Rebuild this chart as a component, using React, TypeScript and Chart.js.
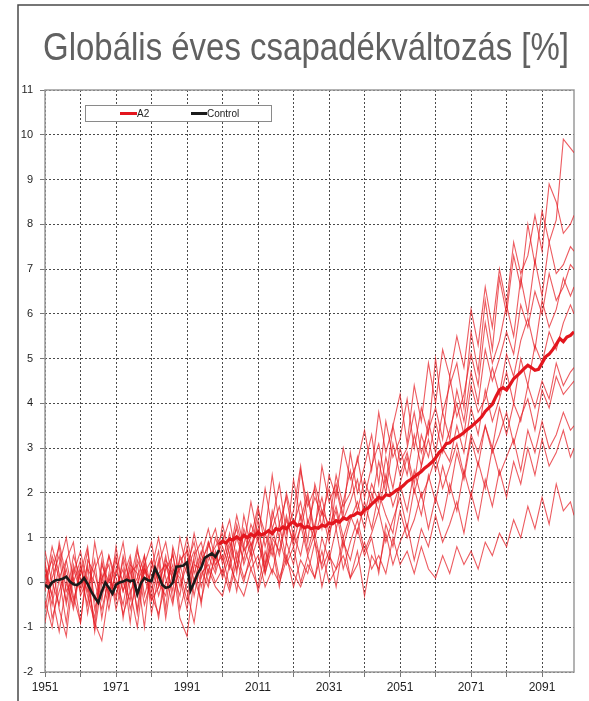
import React, { useEffect, useRef } from 'react';
import { Chart, registerables } from 'chart.js';

Chart.register(...registerables);

const TITLE = 'Globális éves csapadékváltozás [%]';
const LEGEND_MEAN = 'A2';
const LEGEND_CONTROL = 'Control';

const X_TICKS = [1951, 1961, 1971, 1981, 1991, 2001, 2011, 2021, 2031, 2041, 2051, 2061, 2071, 2081, 2091];
const X_LABELS = [1951, 1971, 1991, 2011, 2031, 2051, 2071, 2091];

const CONTROL_YEARS = [
  1951, 1952, 1953, 1954, 1955, 1956, 1957, 1958, 1959, 1960,
  1961, 1962, 1963, 1964, 1965, 1966, 1967, 1968, 1969, 1970,
  1971, 1972, 1973, 1974, 1975, 1976, 1977, 1978, 1979, 1980,
  1981, 1982, 1983, 1984, 1985, 1986, 1987, 1988, 1989, 1990,
  1991, 1992, 1993, 1994, 1995, 1996, 1997, 1998, 1999, 2000,
];
const CONTROL = [
  -0.05, -0.12, 0.0, 0.05, 0.06, 0.08, 0.13, 0.02, -0.04, -0.06,
  0.0, 0.1, -0.03, -0.2, -0.33, -0.45, -0.2, 0.0, -0.12, -0.25,
  -0.05, 0.0, 0.02, 0.06, 0.03, 0.05, -0.26, -0.02, 0.1, 0.05,
  0.03, 0.32, 0.15, -0.05, -0.12, -0.1, 0.0, 0.35, 0.36, 0.38,
  0.45, -0.18, 0.0, 0.2, 0.33, 0.55, 0.6, 0.65, 0.57, 0.72,
];

const MEAN_YEARS = [
  2000, 2001, 2002, 2003, 2004, 2005, 2006, 2007, 2008, 2009,
  2010, 2011, 2012, 2013, 2014, 2015, 2016, 2017, 2018, 2019,
  2020, 2021, 2022, 2023, 2024, 2025, 2026, 2027, 2028, 2029,
  2030, 2031, 2032, 2033, 2034, 2035, 2036, 2037, 2038, 2039,
  2040, 2041, 2042, 2043, 2044, 2045, 2046, 2047, 2048, 2049,
  2050, 2051, 2052, 2053, 2054, 2055, 2056, 2057, 2058, 2059,
  2060, 2061, 2062, 2063, 2064, 2065, 2066, 2067, 2068, 2069,
  2070, 2071, 2072, 2073, 2074, 2075, 2076, 2077, 2078, 2079,
  2080, 2081, 2082, 2083, 2084, 2085, 2086, 2087, 2088, 2089,
  2090, 2091, 2092, 2093, 2094, 2095, 2096, 2097, 2098, 2099,
  2100,
];
const A2_MEAN = [
  0.85, 0.92, 0.88, 0.97, 0.95, 1.02, 0.96, 1.05, 1.0, 1.08,
  1.03, 1.12, 1.06, 1.1, 1.16, 1.09, 1.2, 1.17, 1.24, 1.2,
  1.3, 1.36, 1.27, 1.3, 1.22, 1.25, 1.2, 1.23, 1.21, 1.28,
  1.25, 1.33, 1.31, 1.38, 1.35, 1.44, 1.41, 1.48, 1.5, 1.56,
  1.52, 1.63, 1.66, 1.75, 1.82, 1.9, 1.87, 1.96, 1.94, 2.0,
  2.06, 2.1, 2.17, 2.25, 2.3, 2.36, 2.42, 2.48, 2.56, 2.62,
  2.69, 2.78, 2.9, 2.98, 3.1, 3.12, 3.2, 3.24, 3.29, 3.35,
  3.42, 3.48, 3.55, 3.62, 3.7, 3.82, 3.9, 3.98, 4.15, 4.3,
  4.35, 4.3, 4.42, 4.55, 4.62, 4.7, 4.78, 4.85, 4.8, 4.74,
  4.76, 4.9, 5.04, 5.1, 5.2, 5.32, 5.45, 5.38, 5.48, 5.52,
  5.6,
];

const RUN_YEARS = [
  1951, 1953, 1955, 1957, 1959, 1961, 1963, 1965, 1967, 1969,
  1971, 1973, 1975, 1977, 1979, 1981, 1983, 1985, 1987, 1989,
  1991, 1993, 1995, 1997, 1999,
  2001, 2003, 2005, 2007, 2009, 2011, 2013, 2015, 2017, 2019,
  2021, 2023, 2025, 2027, 2029, 2031, 2033, 2035, 2037, 2039,
  2041, 2043, 2045, 2047, 2049, 2051, 2053, 2055, 2057, 2059,
  2061, 2063, 2065, 2067, 2069, 2071, 2073, 2075, 2077, 2079,
  2081, 2083, 2085, 2087, 2089, 2091, 2093, 2095, 2097, 2099,
  2100,
];

const RUN_01 = [
  0.4, -0.3, 0.9, 0.1, -0.6, 0.3, -0.2, 0.5, -0.8, 0.2,
  -0.4, 0.6, 0.0, 0.8, -0.3, 0.3, 1.0, 0.1, -0.5, 0.6,
  0.2, 1.1, 0.4, 0.9, 0.3,
  1.3, 0.6, 1.5, 0.8, 1.8, 1.0, 2.1, 1.2, 1.7, 0.9,
  2.3, 1.4, 2.0, 1.1, 2.6, 1.8, 2.2, 1.5, 2.9, 2.0,
  2.6, 3.3, 2.2, 3.6, 2.8, 3.2, 4.1, 3.0, 3.9, 3.3,
  5.0, 3.8, 4.4, 4.9, 3.9, 5.6, 4.7, 6.3, 5.2, 6.8,
  6.0, 7.3, 6.6, 8.0, 7.1, 8.3, 7.6, 8.1, 9.9, 9.7,
  9.6,
];
const RUN_02 = [
  -0.2, 0.6, 0.1, -0.9, 0.4, -0.1, 0.7, -0.4, 0.2, -0.6,
  0.3, -0.2, 0.5, -0.7, 0.4, 0.9, -0.1, 0.5, 0.2, -0.3,
  0.8, 0.0, 0.6, 1.2, 0.5,
  0.9, 1.4, 0.5, 1.2, 0.7, 1.6, 1.1, 2.4, 1.3, 1.9,
  1.0, 2.5, 1.7, 2.1, 1.2, 2.4, 1.9, 3.0, 2.3, 2.7,
  3.4, 2.5, 3.8, 2.9, 3.5, 4.2, 3.1, 4.4, 3.6, 4.9,
  4.0, 5.2, 4.6, 5.5, 4.8, 6.1, 5.3, 6.6, 5.7, 7.0,
  6.2, 7.6, 6.9, 7.3, 8.2, 7.4, 8.9, 8.5, 7.8, 8.0,
  8.2,
];
const RUN_03 = [
  0.7, 0.0, -0.5, 0.5, 0.9, -0.3, 0.1, -1.0, 0.4, 0.0,
  0.6, -0.8, 0.2, 0.4, -0.5, 0.1, 0.7, -0.6, 0.8, 0.2,
  -0.4, 0.6, 0.9, 0.2, 1.0,
  0.5, 1.1, 0.2, 1.5, 0.8, 1.2, 0.4, 1.6, 1.0, 2.0,
  1.3, 1.8, 0.9, 2.2, 1.6, 1.3, 2.4, 1.7, 2.0, 2.8,
  1.9, 2.6, 3.1, 2.2, 3.5, 2.7, 3.0, 3.8, 2.9, 3.4,
  3.9, 3.2, 4.6, 3.7, 4.2, 5.1, 4.4, 5.8, 4.9, 5.4,
  6.2, 5.5, 6.8, 6.0, 7.2, 6.4, 7.6, 6.9, 7.1, 7.5,
  7.4,
];
const RUN_04 = [
  -0.6, 0.3, 0.8, -0.2, 0.1, -0.9, 0.5, 0.2, -0.4, 0.6,
  -0.1, 0.3, -0.9, 0.5, 0.1, -0.4, 0.4, 0.9, 0.0, 0.5,
  0.7, -0.3, 0.5, 0.8, 1.2,
  0.4, 0.9, 0.3, 1.1, 0.6, 1.4, 0.2, 1.0, 0.7, 1.5,
  0.8, 1.2, 1.9, 1.0, 1.6, 0.9, 2.1, 1.4, 1.8, 2.3,
  1.5, 2.2, 1.8, 2.8, 2.1, 3.0, 2.4, 3.3, 2.6, 3.6,
  2.9, 3.8, 3.2, 4.3, 3.6, 4.7, 4.0, 5.2, 4.5, 5.0,
  5.6, 5.1, 6.2, 5.7, 6.5, 6.0, 6.9, 6.3, 6.6, 7.1,
  7.0,
];
const RUN_05 = [
  0.2, -0.5, 0.4, 1.0, 0.0, 0.5, -0.7, 0.3, 0.7, -0.3,
  0.2, 0.9, -0.2, 0.1, 0.6, -0.7, 0.2, 0.4, -0.2, 1.0,
  0.3, 0.7, -0.1, 0.5, 0.8,
  1.1, 0.4, 1.3, 0.7, 1.0, 1.7, 0.8, 1.4, 2.2, 1.1,
  1.6, 2.6, 1.3, 1.9, 1.5, 2.1, 1.2, 1.8, 2.5, 1.6,
  2.3, 1.8, 2.7, 2.0, 3.1, 2.4, 2.9, 2.2, 3.3, 2.8,
  3.6, 2.9, 3.4, 4.0, 3.3, 4.4, 3.8, 4.1, 4.8, 4.2,
  5.1, 4.6, 5.4, 5.9, 5.2, 6.3, 5.7, 6.1, 6.8, 6.4,
  6.6,
];
const RUN_06 = [
  -0.1, 0.8, 0.2, -0.4, 0.6, 0.1, -0.5, 0.9, 0.0, -0.2,
  0.5, 0.0, -0.4, 0.7, 0.2, 0.5, -0.3, 0.3, 0.6, -0.1,
  0.4, 0.9, 0.1, 0.6, 0.2,
  0.8, 0.3, 1.0, 0.5, 1.3, 0.9, 0.3, 1.2, 0.6, 1.4,
  0.9, 1.5, 0.7, 1.3, 1.9, 1.1, 1.6, 0.8, 1.4, 1.8,
  1.2, 2.0, 1.6, 2.4, 1.7, 2.2, 2.8, 2.0, 2.6, 3.2,
  2.5, 3.0, 2.7, 3.5, 2.9, 3.9, 3.3, 4.3, 3.6, 4.1,
  4.7, 4.0, 5.0, 4.4, 5.3, 4.9, 5.6, 5.2, 5.8, 6.2,
  6.0,
];
const RUN_07 = [
  0.5, -0.8, -0.2, 0.3, -0.4, 0.2, 0.8, -0.6, 0.1, 0.4,
  -0.6, 0.1, 0.6, -0.3, 0.3, 0.0, -0.8, 0.4, 0.1, 0.3,
  1.0, 0.2, 0.7, 0.0, 0.6,
  0.2, 0.8, 1.2, 0.4, 0.9, 0.3, 1.1, 0.6, 1.3, 0.5,
  1.1, 0.6, 1.4, 0.9, 0.4, 1.2, 1.7, 1.0, 1.5, 1.1,
  1.8, 1.2, 2.0, 1.5, 1.1, 2.2, 1.6, 2.5, 1.9, 2.3,
  2.8, 2.1, 2.6, 3.1, 2.4, 3.3, 2.9, 3.5, 3.0, 3.9,
  3.3, 4.0, 3.6, 4.4, 3.9, 4.5, 4.1, 4.9, 4.4, 4.7,
  4.8,
];
const RUN_08 = [
  -0.9, 0.1, 0.6, -0.5, 0.3, -0.2, 0.4, -1.1, 0.0, 0.6,
  0.1, -0.5, 0.4, 0.2, -1.0, 0.5, 0.0, -0.3, 0.7, -0.6,
  0.0, 0.5, -0.5, 0.9, 0.4,
  0.6, -0.1, 0.7, 0.1, 0.5, 1.0, 0.2, 0.8, -0.1, 0.9,
  0.4, 1.3, 0.6, 0.1, 1.0, 0.5, 1.2, 0.3, 0.9, 1.4,
  0.7, 1.1, 1.6, 0.9, 1.4, 1.9, 1.2, 2.1, 1.5, 2.4,
  1.8, 2.6, 2.0, 2.9, 2.3, 3.2, 2.6, 3.5, 2.9, 3.3,
  3.8, 3.1, 3.7, 4.1, 3.4, 4.3, 3.9, 4.6, 4.2, 4.4,
  4.5,
];
const RUN_09 = [
  0.1, 0.5, -0.6, -1.2, 0.2, 0.7, -0.1, -0.8, 0.5, -0.4,
  0.8, -0.2, 0.3, -0.6, 0.6, -0.2, 0.5, -0.8, 0.3, 0.1,
  -0.6, 0.4, 0.3, -0.1, 0.7,
  0.1, 0.6, -0.2, 0.8, 0.3, -0.1, 0.7, 0.2, 1.0, 0.4,
  0.8, 0.0, 0.6, 1.1, 0.3, 0.7, -0.1, 0.9, 0.5, 1.2,
  0.6, 1.0, 0.2, 1.3, 0.8, 1.6, 1.0, 1.4, 2.0, 1.2,
  1.9, 1.4, 2.2, 1.6, 2.5, 1.9, 2.7, 2.1, 3.0, 2.4,
  2.8, 3.2, 2.5, 3.4, 2.9, 3.6, 3.0, 3.3, 3.8, 3.4,
  3.5,
];
const RUN_10 = [
  -0.4, -1.0, 0.1, 0.5, -0.3, -0.9, 0.3, 0.0, -0.6, 0.1,
  -0.3, 0.5, -0.6, 0.0, 0.4, -0.4, -0.1, 0.6, -0.4, 0.4,
  -0.2, -0.9, 0.2, 0.4, 0.0,
  0.3, -0.2, 0.5, 0.0, 0.7, -0.2, 0.4, 0.9, 0.1, 0.6,
  -0.1, 0.5, 0.2, 0.9, -0.1, 0.6, 0.3, 1.0, 0.1, 0.7,
  -0.3, 0.6, 0.3, 1.1, 0.4, 0.9, 1.3, 0.5, 1.2, 0.8,
  1.5, 0.9, 1.3, 1.8, 1.1, 2.0, 1.4, 2.3, 1.7, 2.5,
  1.9, 2.7, 2.2, 3.0, 2.4, 3.2, 2.6, 2.9, 3.4, 2.8,
  3.0,
];
const RUN_11 = [
  0.3, -0.3, -1.1, 0.0, -0.5, 0.4, -0.3, -0.9, -1.3, -0.2,
  0.0, -0.7, -0.2, -1.0, 0.3, -0.3, -0.7, 0.0, 0.4, -0.8,
  -1.2, 0.1, -0.4, 0.3, -0.1,
  -0.3, 0.4, 0.0, -0.3, 0.3, 0.6, -0.1, 0.3, 0.0, 0.5,
  0.2, -0.1, 0.4, 0.1, 0.7, 0.0, 0.3, 0.6, 0.1, 0.4,
  0.9, 0.3, 0.6, 0.2, 1.0, 0.4, 0.7, 0.2, 0.8, 0.3,
  0.1, 0.6, 0.2, 0.8, 0.4, 0.7, 0.3, 0.9, 0.6, 1.1,
  0.8, 1.4, 1.0, 1.7, 1.2, 1.9, 1.3, 2.2, 1.6, 1.8,
  1.5,
];

const RUNS = [RUN_01, RUN_02, RUN_03, RUN_04, RUN_05, RUN_06, RUN_07, RUN_08, RUN_09, RUN_10, RUN_11];

const RED = '#e3161e';
const RUN_COLOR = 'rgba(230, 28, 34, 0.72)';
const BLACK = '#1a1a1a';
const FONT = '"Liberation Sans", Arial, Helvetica, sans-serif';

const pairs = (xs: number[], ys: number[]) => ys.map((y, i) => ({ x: xs[i], y }));

const decorPlugin = {
  id: 'decor',
  beforeDraw(chart: any) {
    const ctx = chart.ctx as CanvasRenderingContext2D;
    ctx.save();
    ctx.fillStyle = '#ffffff';
    ctx.fillRect(0, 0, chart.width, chart.height);
    ctx.strokeStyle = '#4a4a4a';
    ctx.lineWidth = 1.5;
    ctx.beginPath();
    ctx.moveTo(18, chart.height);
    ctx.lineTo(18, 5);
    ctx.lineTo(chart.width, 5);
    ctx.stroke();
    ctx.font = `39px ${FONT}`;
    const w = ctx.measureText(TITLE).width;
    ctx.translate(306, 60);
    ctx.scale(526 / w, 1);
    ctx.fillStyle = '#616161';
    ctx.textAlign = 'center';
    ctx.textBaseline = 'alphabetic';
    ctx.fillText(TITLE, 0, 0);
    ctx.restore();
  },
  beforeDatasetsDraw(chart: any) {
    const ctx = chart.ctx as CanvasRenderingContext2D;
    const { left, top, right, bottom } = chart.chartArea;
    ctx.save();
    ctx.strokeStyle = '#9a9a9a';
    ctx.lineWidth = 1.5;
    ctx.strokeRect(left, top, right - left, bottom - top);
    ctx.restore();
  },
  afterDatasetsDraw(chart: any) {
    const ctx = chart.ctx as CanvasRenderingContext2D;
    ctx.save();
    ctx.fillStyle = '#ffffff';
    ctx.fillRect(85, 105, 187, 17);
    ctx.strokeStyle = '#8a8a8a';
    ctx.lineWidth = 1;
    ctx.strokeRect(85.5, 105.5, 186, 16);
    ctx.lineWidth = 3;
    ctx.strokeStyle = RED;
    ctx.beginPath();
    ctx.moveTo(120, 113.5);
    ctx.lineTo(137, 113.5);
    ctx.stroke();
    ctx.strokeStyle = BLACK;
    ctx.beginPath();
    ctx.moveTo(191, 113.5);
    ctx.lineTo(207, 113.5);
    ctx.stroke();
    ctx.fillStyle = '#222';
    ctx.font = `10px ${FONT}`;
    ctx.textBaseline = 'middle';
    ctx.textAlign = 'left';
    ctx.fillText(LEGEND_MEAN, 137, 114);
    ctx.fillText(LEGEND_CONTROL, 207, 114);
    ctx.restore();
  },
};

export default function App() {
  const ref = useRef<HTMLCanvasElement>(null);
  useEffect(() => {
    document.body.style.margin = '0';
    const datasets: any[] = [
      {
        label: LEGEND_CONTROL,
        data: pairs(CONTROL_YEARS, CONTROL),
        borderColor: BLACK,
        borderWidth: 2.6,
        pointRadius: 0,
        order: 0,
      },
      {
        label: LEGEND_MEAN,
        data: pairs(MEAN_YEARS, A2_MEAN),
        borderColor: RED,
        borderWidth: 3.2,
        pointRadius: 0,
        order: 1,
      },
      ...RUNS.map((r, i) => ({
        label: `run ${i + 1}`,
        data: pairs(RUN_YEARS, r),
        borderColor: RUN_COLOR,
        borderWidth: 1.1,
        pointRadius: 0,
        order: 2,
      })),
    ];
    const chart = new Chart(ref.current as HTMLCanvasElement, {
      type: 'line',
      data: { datasets },
      options: {
        animation: false,
        responsive: false,
        devicePixelRatio: 1,
        layout: { padding: { top: 90, right: 15, left: 0, bottom: 0 } },
        elements: { line: { tension: 0 }, point: { radius: 0 } },
        plugins: {
          legend: { display: false },
          tooltip: { enabled: false },
          title: { display: false },
        },
        scales: {
          x: {
            type: 'linear',
            min: 1951,
            max: 2100,
            afterBuildTicks: (s: any) => {
              s.ticks = X_TICKS.map((v) => ({ value: v }));
            },
            afterFit: (s: any) => {
              s.height = 29;
            },
            ticks: {
              autoSkip: false,
              maxRotation: 0,
              minRotation: 0,
              padding: 3,
              color: '#1e1e1e',
              font: { family: FONT, size: 12 },
              callback: (v: any) => (X_LABELS.includes(Number(v)) ? String(v) : ''),
            },
            grid: { color: '#4a4a4a', lineWidth: 1, tickLength: 5, tickColor: '#777' },
            border: { display: false, dash: [2, 2] },
          },
          y: {
            min: -2,
            max: 11,
            afterFit: (s: any) => {
              s.width = 45;
            },
            ticks: {
              stepSize: 1,
              padding: 7,
              color: '#1e1e1e',
              font: { family: FONT, size: 11 },
            },
            grid: { color: '#4a4a4a', lineWidth: 1, tickLength: 5, tickColor: '#777' },
            border: { display: false, dash: [2, 2] },
          },
        },
      },
      plugins: [decorPlugin],
    } as any);
    return () => chart.destroy();
  }, []);
  return (
    <div style={{ position: 'absolute', left: 0, top: 0, width: 589, height: 701, background: '#fff' }}>
      <canvas ref={ref} width={589} height={701} style={{ display: 'block', width: 589, height: 701 }} />
    </div>
  );
}
